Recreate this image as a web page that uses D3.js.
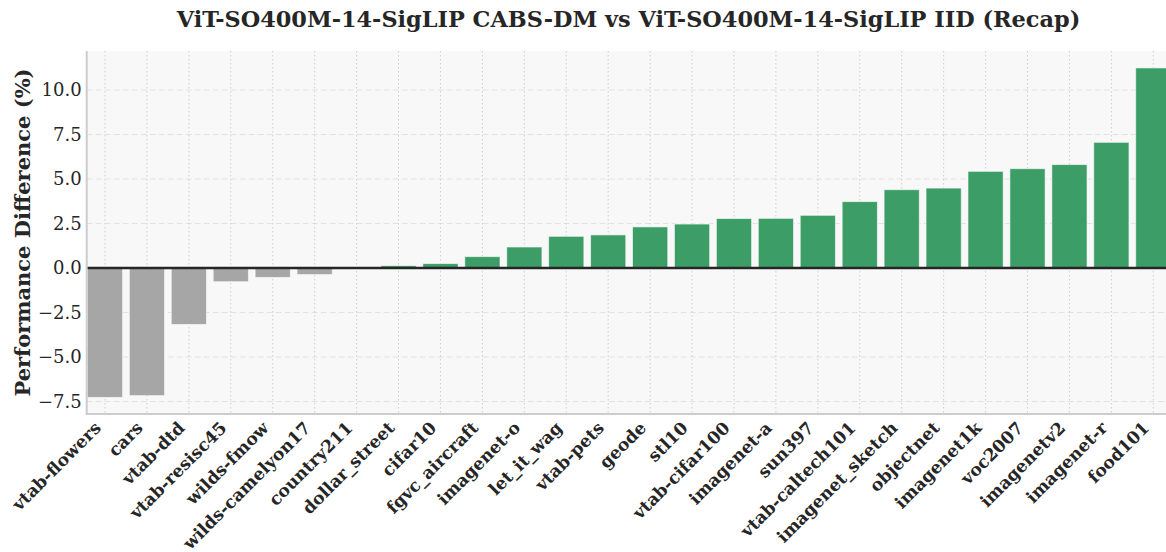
<!DOCTYPE html>
<html>
<head>
<meta charset="utf-8">
<script src="https://cdn.jsdelivr.net/npm/d3@7"></script>
<style>
  html, body { margin: 0; padding: 0; background: #ffffff; }
  svg { display: block; }
</style>
</head>
<body>
<svg id="chart" width="1166" height="552"></svg>
<script>
// Per-dataset performance difference (%), sorted ascending
const datasets = [
  "vtab-flowers", "cars", "vtab-dtd", "vtab-resisc45", "wilds-fmow",
  "wilds-camelyon17", "country211", "dollar_street", "cifar10", "fgvc_aircraft",
  "imagenet-o", "let_it_wag", "vtab-pets", "geode", "stl10",
  "vtab-cifar100", "imagenet-a", "sun397", "vtab-caltech101", "imagenet_sketch",
  "objectnet", "imagenet1k", "voc2007", "imagenetv2", "imagenet-r", "food101"
];
const differences = [
  -7.27, -7.17, -3.17, -0.77, -0.53,
  -0.37, 0.05, 0.13, 0.25, 0.64,
  1.18, 1.78, 1.86, 2.31, 2.47,
  2.78, 2.79, 2.96, 3.73, 4.40,
  4.49, 5.43, 5.58, 5.81, 7.06, 11.24
];
const yTicks = [-7.5, -5.0, -2.5, 0.0, 2.5, 5.0, 7.5, 10.0];

const titleText = "ViT-SO400M-14-SigLIP CABS-DM vs ViT-SO400M-14-SigLIP IID (Recap)";
const yLabelText = "Performance Difference (%)";

const svg = d3.select("#chart");
const plot = { left: 86.7, right: 1171.6, top: 51, bottom: 414 };

const x = d3.scalePoint()
  .domain(datasets)
  .range([plot.left, plot.right])
  .padding(0.4365);
const barW = x.step() * 0.84;

const y = d3.scaleLinear()
  .domain([-8.2, 12.19])
  .range([plot.bottom, plot.top]);

const serif = "DejaVu Serif";
const ink = "#262626";

// axes background
svg.append("rect")
  .attr("x", plot.left).attr("y", plot.top)
  .attr("width", plot.right - plot.left).attr("height", plot.bottom - plot.top)
  .attr("fill", "#f8f8f8");

// grid
const grid = svg.append("g");
grid.selectAll("line.h").data(yTicks).join("line")
  .attr("class", "h")
  .attr("x1", plot.left).attr("x2", plot.right)
  .attr("y1", d => y(d)).attr("y2", d => y(d))
  .attr("stroke", "#e2e2e2").attr("stroke-width", 1)
  .attr("stroke-dasharray", "6,3");
grid.selectAll("line.v").data(datasets).join("line")
  .attr("class", "v")
  .attr("x1", d => x(d)).attr("x2", d => x(d))
  .attr("y1", plot.top).attr("y2", plot.bottom)
  .attr("stroke", "#cfcfcf").attr("stroke-width", 1)
  .attr("stroke-dasharray", "1.5,2.5");

// bars
svg.append("g").selectAll("rect").data(datasets).join("rect")
  .attr("x", d => x(d) - barW / 2)
  .attr("width", barW)
  .attr("y", (d, i) => y(Math.max(0, differences[i])))
  .attr("height", (d, i) => Math.abs(y(differences[i]) - y(0)))
  .attr("fill", (d, i) => differences[i] >= 0 ? "#3c9d67" : "#a6a6a6")
  .attr("stroke", "#ffffff").attr("stroke-opacity", 0.6)
  .attr("stroke-width", 1);

// zero reference line
svg.append("line")
  .attr("x1", plot.left).attr("x2", plot.right)
  .attr("y1", y(0)).attr("y2", y(0))
  .attr("stroke", ink).attr("stroke-width", 2.6);

// spines
svg.append("line")
  .attr("x1", plot.left).attr("x2", plot.left)
  .attr("y1", plot.top).attr("y2", plot.bottom)
  .attr("stroke", "#cccccc").attr("stroke-width", 2);
svg.append("line")
  .attr("x1", plot.left - 1).attr("x2", plot.right)
  .attr("y1", plot.bottom).attr("y2", plot.bottom)
  .attr("stroke", "#cccccc").attr("stroke-width", 2);

// y axis
const yAxis = svg.append("g")
  .attr("transform", `translate(${plot.left},0)`)
  .call(d3.axisLeft(y).tickValues(yTicks).tickSize(0).tickPadding(5)
    .tickFormat(d3.format(".1f")))
  .attr("font-family", serif).attr("font-size", 18);
yAxis.select(".domain").remove();
yAxis.selectAll("text")
  .style("font-family", serif).style("font-size", "18px").attr("fill", ink);

// x tick labels, rotated 45 degrees
svg.append("g").selectAll("text").data(datasets).join("text")
  .attr("transform", d => `translate(${x(d) - 3},${429}) rotate(-45)`)
  .attr("text-anchor", "end")
  .style("font-family", serif).style("font-weight", "bold")
  .style("font-size", "17.2px").attr("fill", ink)
  .text(d => d);

// y label
svg.append("text")
  .attr("transform", `translate(30,${(plot.top + plot.bottom) / 2}) rotate(-90)`)
  .attr("text-anchor", "middle")
  .style("font-family", serif).style("font-weight", "bold")
  .style("font-size", "21px").attr("fill", ink)
  .text(yLabelText);

// title
svg.append("text")
  .attr("x", 628.5).attr("y", 27)
  .attr("text-anchor", "middle")
  .style("font-family", serif).style("font-weight", "bold")
  .style("font-size", "22.4px").attr("fill", ink)
  .text(titleText);
</script>
</body>
</html>
